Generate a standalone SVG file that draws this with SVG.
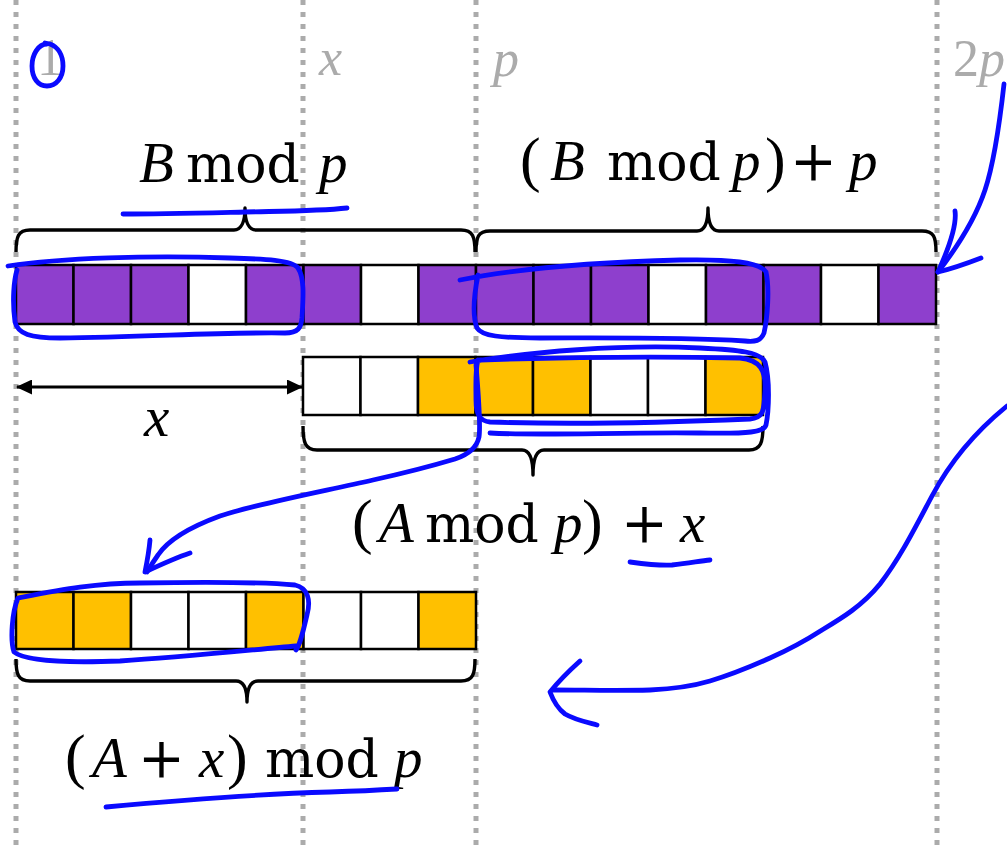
<svg xmlns="http://www.w3.org/2000/svg" width="1007" height="852" viewBox="0 0 1007 852">
  <style>
    .guide { stroke: #ababab; stroke-width: 5; stroke-dasharray: 5 7; fill: none; }
    .tick { fill: #ababab; font-family: "Liberation Serif", serif; font-size: 52px; }
    .cell { stroke: #000; stroke-width: 2.5; }
    .pu { fill: #8e3fcd; }
    .or { fill: #ffc000; }
    .wh { fill: #ffffff; }
    .brace { fill: none; stroke: #000; stroke-width: 3.4; stroke-linejoin: round; }
    .var { font-family: "Liberation Serif", serif; font-style: italic; font-size: 57px; fill: #000; }
    .up { font-family: "DejaVu Serif", serif; font-size: 52px; fill: #000; }
    .par { font-family: "Liberation Serif", serif; font-size: 62px; fill: #000; }
    .pl { font-family: "DejaVu Serif", serif; font-size: 56px; fill: #000; }
    .ink { fill: none; stroke: #0a0aff; stroke-width: 4.8; stroke-linecap: round; stroke-linejoin: round; }
    .dim { stroke: #000; stroke-width: 3; }
  </style>
  <defs>
    <marker id="tri" viewBox="0 0 16 15" refX="15" refY="7.5" markerWidth="16" markerHeight="15" markerUnits="userSpaceOnUse" orient="auto-start-reverse">
      <path d="M0,0 L16,7.5 L0,15 Z" fill="#000"/>
    </marker>
  </defs>
  <rect width="1007" height="852" fill="#fff"/>

  <!-- guide lines at 1, x, p and 2p -->
  <g id="guides">
    <line class="guide" x1="16" y1="0" x2="16" y2="852"/>
    <line class="guide" x1="303" y1="0" x2="303" y2="852"/>
    <line class="guide" x1="476" y1="0" x2="476" y2="852"/>
    <line class="guide" x1="937" y1="0" x2="937" y2="852"/>
    <text class="tick" x="37" y="75" font-size="48">1</text>
    <text class="tick" x="319" y="75" font-style="italic">x</text>
    <text class="tick" x="493" y="76" font-style="italic">p</text>
    <text class="tick" x="953" y="76">2<tspan font-style="italic">p</tspan></text>
  </g>

  <!-- row B: two periods of p -->
  <g id="row-b">
    <rect class="cell pu" x="16" y="265" width="57.5" height="59"/>
    <rect class="cell pu" x="73.5" y="265" width="57.5" height="59"/>
    <rect class="cell pu" x="131" y="265" width="57.5" height="59"/>
    <rect class="cell wh" x="188.5" y="265" width="57.5" height="59"/>
    <rect class="cell pu" x="246" y="265" width="57.5" height="59"/>
    <rect class="cell pu" x="303.5" y="265" width="57.5" height="59"/>
    <rect class="cell wh" x="361" y="265" width="57.5" height="59"/>
    <rect class="cell pu" x="418.5" y="265" width="57.5" height="59"/>
    <rect class="cell pu" x="476" y="265" width="57.5" height="59"/>
    <rect class="cell pu" x="533.5" y="265" width="57.5" height="59"/>
    <rect class="cell pu" x="591" y="265" width="57.5" height="59"/>
    <rect class="cell wh" x="648.5" y="265" width="57.5" height="59"/>
    <rect class="cell pu" x="706" y="265" width="57.5" height="59"/>
    <rect class="cell pu" x="763.5" y="265" width="57.5" height="59"/>
    <rect class="cell wh" x="821" y="265" width="57.5" height="59"/>
    <rect class="cell pu" x="878.5" y="265" width="57.5" height="59"/>
  </g>

  <!-- row A shifted by x -->
  <g id="row-a-shift">
    <rect class="cell wh" x="303" y="357" width="57.5" height="58"/>
    <rect class="cell wh" x="360.5" y="357" width="57.5" height="58"/>
    <rect class="cell or" x="418" y="357" width="57.5" height="58"/>
    <rect class="cell or" x="475.5" y="357" width="57.5" height="58"/>
    <rect class="cell or" x="533" y="357" width="57.5" height="58"/>
    <rect class="cell wh" x="590.5" y="357" width="57.5" height="58"/>
    <rect class="cell wh" x="648" y="357" width="57.5" height="58"/>
    <rect class="cell or" x="705.5" y="357" width="57.5" height="58"/>
  </g>

  <!-- row (A + x) mod p -->
  <g id="row-a-mod">
    <rect class="cell or" x="16" y="592" width="57.5" height="57"/>
    <rect class="cell or" x="73.5" y="592" width="57.5" height="57"/>
    <rect class="cell wh" x="131" y="592" width="57.5" height="57"/>
    <rect class="cell wh" x="188.5" y="592" width="57.5" height="57"/>
    <rect class="cell or" x="246" y="592" width="57.5" height="57"/>
    <rect class="cell wh" x="303.5" y="592" width="57.5" height="57"/>
    <rect class="cell wh" x="361" y="592" width="57.5" height="57"/>
    <rect class="cell or" x="418.5" y="592" width="57.5" height="57"/>
  </g>

  <!-- braces with their labels -->
  <g id="brace-b-mod">
    <path class="brace" d="M16,252 C16,237 18,230 30,230 L234,230 C241,230 245,222 245,208 C245,222 249,230 256,230 L461,230 C473,230 475,237 475,252"/>
    <text class="var" x="139" y="182">B</text>
    <text class="up" x="186" y="182">mod</text>
    <text class="var" x="319" y="182">p</text>
  </g>
  <g id="brace-b-mod-plus-p">
    <path class="brace" d="M476,252 C476,237 478,231 490,231 L697,231 C704,231 708,223 708,208 C708,223 712,231 719,231 L922,231 C934,231 936,237 936,252"/>
    <text class="par" x="520" y="180">(</text>
    <text class="var" x="550" y="180">B</text>
    <text class="up" x="607" y="180">mod</text>
    <text class="var" x="732" y="180">p</text>
    <text class="par" x="765" y="180">)</text>
    <text class="pl" x="790" y="180">+</text>
    <text class="var" x="849" y="180">p</text>
  </g>
  <g id="brace-a-mod-plus-x">
    <path class="brace" d="M303,426 C303,442 305,450 317,450 L522,450 C529,450 533,458 533,475 C533,458 537,450 544,450 L749,450 C761,450 763,442 763,426"/>
    <text class="par" x="352" y="542">(</text>
    <text class="var" x="379" y="542">A</text>
    <text class="up" x="425" y="542" font-size="50">mod</text>
    <text class="var" x="554" y="542">p</text>
    <text class="par" x="582" y="542">)</text>
    <text class="pl" x="621" y="542">+</text>
    <text class="var" x="680" y="542">x</text>
  </g>
  <g id="brace-a-plus-x-mod">
    <path class="brace" d="M16,659 C16,674 18,681 30,681 L236,681 C243,681 247,688 247,702 C247,688 251,681 258,681 L461,681 C473,681 475,674 475,659"/>
    <text class="par" x="65" y="777">(</text>
    <text class="var" x="92" y="777">A</text>
    <text class="pl" x="138" y="777">+</text>
    <text class="var" x="199" y="777">x</text>
    <text class="par" x="227" y="777">)</text>
    <text class="up" x="265" y="777" font-size="50">mod</text>
    <text class="var" x="394" y="777">p</text>
  </g>

  <!-- offset x between the rows -->
  <g id="connectors">
    <line class="dim" x1="17" y1="387" x2="302" y2="387" marker-start="url(#tri)" marker-end="url(#tri)"/>
    <text class="var" x="144" y="436">x</text>
  </g>

  <!-- pen annotations -->
  <g id="annotations">
    <path class="ink" d="M47,44 C38,44 32,55 32,66 C32,78 38,86 47,86 C56,86 63,78 63,66 C63,55 58,47 50,44 L45,43"/>
    <path class="ink" d="M123,214 C160,214 200,213 245,212 C290,211 320,211 347,208"/>
    <path class="ink" d="M8,266 C60,258 150,255 230,258 C265,259 292,260 298,268 C305,278 303,300 302,318 C301,328 298,333 285,333 C220,332 150,337 60,338 C30,338 18,334 15,322 C12,300 14,280 17,270"/>
    <path class="ink" d="M460,280 C520,268 600,262 680,260 C730,259 760,262 766,272 C770,290 767,320 764,333 C761,341 755,342 745,341 C680,337 600,338 540,338 C500,338 482,336 477,328 C472,315 474,295 478,275"/>
    <path class="ink" d="M1004,84 C1000,120 995,160 985,190 C975,220 955,250 938,272"/>
    <path class="ink" d="M955,211 C957,225 948,250 938,272 C955,268 968,263 981,258"/>
    <path class="ink" d="M470,362 C530,352 620,344 700,348 C740,350 760,352 765,362 C770,380 769,410 766,425 C764,432 750,434 700,433 C620,432 540,436 490,433 M480,360 C540,358 650,356 740,358 C760,360 766,370 765,390 C764,410 764,418 750,419 C680,422 580,425 490,422 C480,421 476,415 476,400 C476,385 475,370 478,360"/>
    <path class="ink" d="M476,365 C478,390 481,425 479,437 C477,447 470,454 455,459 C425,468 400,474 373,480 C320,492 260,503 220,516 C190,527 168,540 158,555 C153,562 150,567 147,572"/>
    <path class="ink" d="M150,540 C149,552 147,562 145,572 C160,565 175,558 190,553"/>
    <path class="ink" d="M630,562 C645,564 660,566 672,565 C690,563 700,561 710,560"/>
    <path class="ink" d="M296,646 C250,650 180,657 120,661 C70,663 25,661 14,652 C10,640 12,612 18,598 C60,590 95,583 140,583 C200,582 262,582 295,585 C308,588 311,600 307,615 C303,632 300,645 296,650"/>
    <path class="ink" d="M106,807 C180,800 260,794 330,792 C360,791 380,790 397,789"/>
    <path class="ink" d="M1007,406 C975,432 950,462 932,496 C915,528 900,558 880,584 C862,606 842,618 822,630 C805,641 788,650 770,658 C750,667 730,675 710,681 C690,687 670,689 650,690 C615,691 585,690 553,690"/>
    <path class="ink" d="M580,661 C570,670 558,682 550,692 C553,700 557,708 565,714 C575,720 590,723 597,725"/>
  </g>
</svg>
